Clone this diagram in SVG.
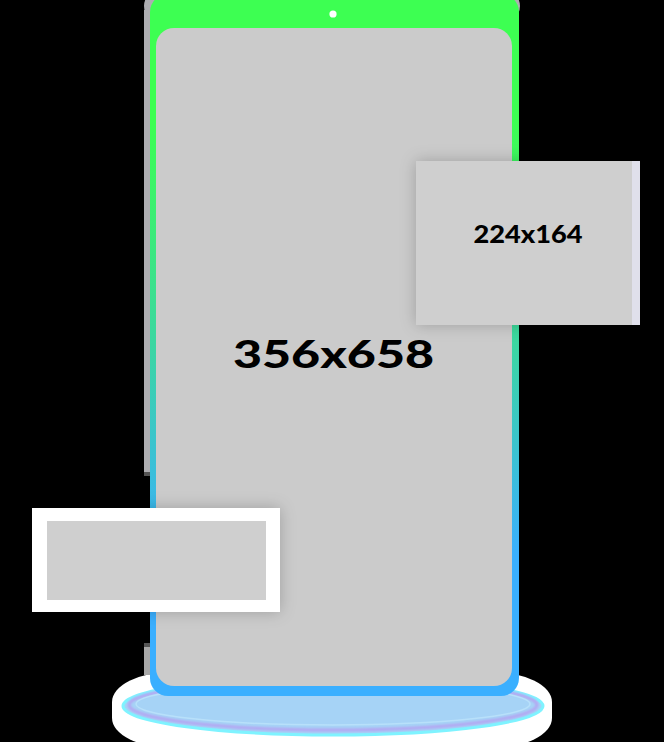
<svg xmlns="http://www.w3.org/2000/svg" width="664" height="742" viewBox="0 0 664 742">
  <style>
    .label { font-family: Lato, "DejaVu Sans", "Liberation Sans", sans-serif; font-weight: 900; fill: #000; text-anchor: middle; }
    .screen { fill: #cbcbcb; }
    .card { fill: #cfcfcf; }
    .body { fill: #adadb1; }
  </style>
  <defs>
    <linearGradient id="frameGrad" x1="0" y1="0" x2="0" y2="1">
      <stop offset="0.18" stop-color="#3dff52"/>
      <stop offset="0.5" stop-color="#3cd6a2"/>
      <stop offset="0.8" stop-color="#3aafff"/>
      <stop offset="1" stop-color="#3aafff"/>
    </linearGradient>
    <filter id="shadow" x="-20%" y="-20%" width="140%" height="140%">
      <feDropShadow dx="0" dy="0" stdDeviation="8" flood-color="#000" flood-opacity="0.22"/>
    </filter>
    <filter id="soft" x="-10%" y="-30%" width="120%" height="160%">
      <feGaussianBlur stdDeviation="1"/>
    </filter>
  </defs>
  <rect x="0" y="0" width="664" height="742" fill="#000"/>

  <g id="base-glow">
    <rect x="112" y="672" width="440" height="76" rx="60" ry="30" fill="#ffffff"/>
    <ellipse cx="333" cy="706" rx="210" ry="29" fill="#a6d3f6" stroke="#7ff3ff" stroke-width="3"/>
    <ellipse cx="333" cy="705" rx="204" ry="25" fill="none" stroke="#b4a6f2" stroke-width="3" filter="url(#soft)"/>
    <ellipse cx="333" cy="704" rx="197" ry="21" fill="none" stroke="#b8e0fa" stroke-width="1.5"/>
  </g>

  <g id="phone">
    <rect class="body" x="144" y="-12" width="376" height="36" rx="20"/>
    <rect class="body" x="144" y="10" width="10" height="466"/>
    <rect x="144" y="472" width="8" height="4" fill="#555"/>
    <rect x="144" y="643" width="10" height="32" fill="#a8a8a8"/>
    <rect x="144" y="643" width="10" height="4" fill="#555"/>
    <rect x="150" y="-6" width="369" height="702" rx="18" fill="url(#frameGrad)"/>
    <circle cx="333" cy="14" r="3.6" fill="#ffffff"/>
    <rect class="screen" x="156" y="28" width="356" height="658" rx="18"/>
    <text class="label" x="333.5" y="368" font-size="37" textLength="201" lengthAdjust="spacingAndGlyphs">356x658</text>
  </g>

  <g id="card-right">
    <rect class="card" x="416" y="161" width="224" height="164" filter="url(#shadow)"/>
    <rect x="632" y="161" width="8" height="164" fill="#e0e0eb"/>
    <text class="label" x="528" y="243" font-size="24.5" textLength="109" lengthAdjust="spacingAndGlyphs">224x164</text>
  </g>

  <g id="card-left">
    <rect x="32" y="508" width="248" height="104" fill="#ffffff" filter="url(#shadow)"/>
    <rect class="card" x="47" y="521" width="219" height="79" fill="#cdcdcd"/>
  </g>

  <g id="connectors"/>
</svg>
